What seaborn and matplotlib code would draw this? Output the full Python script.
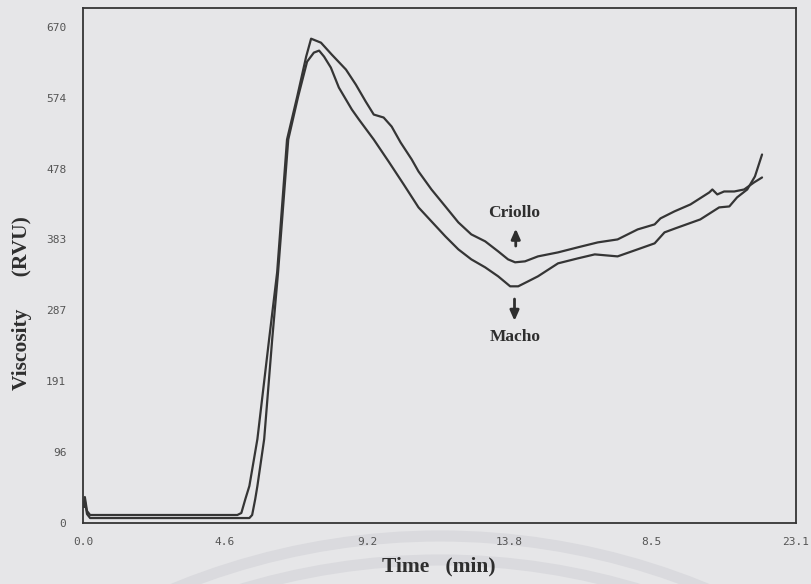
import numpy as np
import pandas as pd
import matplotlib
matplotlib.use("Agg")
import matplotlib.pyplot as plt
from matplotlib.patches import Arc
from matplotlib.transforms import IdentityTransform
import seaborn as sns

# ---- data ----
criollo_time = [0.03, 0.06, 0.13, 0.23, 2.16, 5.00, 5.13, 5.26, 5.39, 5.65, 6.03, 6.29, 6.61, 6.94,
                7.23, 7.39, 7.71, 8.06, 8.52, 8.84, 9.16, 9.42, 9.74, 10.00, 10.29, 10.65, 10.87,
                11.29, 11.74, 12.16, 12.58, 13.03, 13.45, 13.77, 14.00, 14.32, 14.74, 15.39, 16.03,
                16.68, 17.32, 17.97, 18.52, 18.71, 19.16, 19.68, 20.29, 20.39, 20.55, 20.77, 21.10,
                21.42, 21.74, 22.00]
criollo_visc = [25.6, 35.0, 16.2, 10.8, 10.8, 10.8, 13.5, 32.3, 49.9, 113.2, 248.0, 338.3, 517.5, 575.5,
                629.4, 653.6, 648.2, 632.1, 611.9, 591.6, 568.7, 551.2, 547.2, 535.0, 513.5, 490.6, 474.4,
                450.1, 427.2, 405.7, 389.5, 380.1, 366.6, 355.8, 351.8, 353.1, 359.8, 365.2, 372.0,
                378.7, 382.7, 396.2, 403.0, 411.1, 420.5, 429.9, 446.1, 450.1, 443.4, 447.4, 447.4,
                450.1, 459.6, 466.3]

macho_time = [0.03, 0.06, 0.13, 0.23, 2.16, 5.39, 5.48, 5.58, 5.65, 5.87, 6.13, 6.32, 6.65, 6.97,
              7.26, 7.48, 7.65, 7.81, 8.03, 8.29, 8.52, 8.71, 8.94, 9.42, 9.90, 10.39, 10.87, 11.29,
              11.74, 12.16, 12.58, 13.03, 13.45, 13.84, 14.10, 14.42, 14.74, 15.39, 16.03, 16.58,
              17.32, 17.97, 18.52, 18.84, 19.19, 20.00, 20.61, 20.94, 21.19, 21.52, 21.77, 22.00]
macho_visc = [21.6, 29.6, 12.1, 6.7, 6.7, 6.7, 10.8, 32.3, 49.9, 113.2, 248.0, 338.3, 517.5, 575.5,
              622.6, 634.8, 637.5, 629.4, 614.6, 587.6, 571.4, 558.0, 544.5, 517.5, 487.9, 456.9, 425.9, 407.0,
              386.8, 369.3, 355.8, 345.0, 332.9, 319.4, 319.4, 326.1, 332.9, 350.4, 357.1, 362.5,
              359.8, 369.3, 377.4, 392.2, 397.6, 409.7, 425.9, 427.2, 439.4, 450.1, 467.7, 497.3]

x_ticks = [0.0, 4.6, 9.2, 13.8, 18.4, 23.1]
x_tick_labels = ["0.0", "4.6", "9.2", "13.8", "8.5", "23.1"]
y_ticks = [0, 96, 191, 287, 383, 478, 574, 670]
y_tick_labels = ["0", "96", "191", "287", "383", "478", "574", "670"]

df = pd.concat([
    pd.DataFrame({"Time": criollo_time, "Viscosity": criollo_visc, "Sample": "Criollo"}),
    pd.DataFrame({"Time": macho_time, "Viscosity": macho_visc, "Sample": "Macho"}),
], ignore_index=True)

# ---- style ----
sns.set_theme(style="white")
bg = "#e6e6e8"
ink = "#353535"
plt.rcParams["font.family"] = ["DejaVu Sans"]

fig = plt.figure(figsize=(8.12, 5.84), dpi=100, facecolor=bg)

# faint watermark arcs below the axis (display pixel coords, origin bottom-left)
for top, r in [(48, 700), (24, 690)]:
    arc = Arc((440, top - r), 2 * r, 2 * r, theta1=55, theta2=125, color="#dadade", lw=8,
              transform=IdentityTransform(), zorder=-5)
    fig.patches.append(arc)

ax = fig.add_axes([83 / 812, 1 - 523 / 584, (796 - 83) / 812, (523 - 8) / 584])
ax.set_facecolor(bg)
ax.set_zorder(2)

sns.lineplot(data=df, x="Time", y="Viscosity", hue="Sample", units="Sample",
             estimator=None, sort=False, palette={"Criollo": ink, "Macho": ink},
             linewidth=1.6, legend=False, ax=ax)

ax.set_xlim(0, 23.0)
ax.set_ylim(0, 695)
ax.set_xticks(x_ticks)
ax.set_xticklabels(x_tick_labels, family="DejaVu Sans Mono", fontsize=8, color="#555555")
ax.set_yticks(y_ticks)
ax.set_yticklabels(y_tick_labels, family="DejaVu Sans Mono", fontsize=8, color="#555555")
ax.tick_params(axis="x", direction="in", length=8, width=1.0, color=ink, pad=10)
ax.tick_params(axis="y", direction="in", length=6, width=1.0, color=ink, pad=12)
for s in ax.spines.values():
    s.set_color(ink)
    s.set_linewidth(1.3)
ax.set_xlabel("")
ax.set_ylabel("")

serif = ["Liberation Serif", "DejaVu Serif"]
fig.text(22 / 812, 1 - 303 / 584, "Viscosity      (RVU)", rotation=90, ha="center", va="center",
         family=serif, fontweight="bold", fontsize=15.5, color="#2e2e2e", zorder=3)
fig.text(439 / 812, 1 - 566 / 584, "Time   (min)", ha="center", va="center",
         family=serif, fontweight="bold", fontsize=15.5, color="#2e2e2e", zorder=3)

# annotations
ax.text(13.98, 419, "Criollo", ha="center", va="center", family=serif, fontweight="bold",
        fontsize=12.5, color="#2e2e2e")
ax.annotate("", xy=(14.02, 401), xytext=(14.02, 370),
            arrowprops=dict(arrowstyle="-|>,head_length=0.5,head_width=0.22", color="#2e2e2e", lw=2))
ax.text(14.0, 251, "Macho", ha="center", va="center", family=serif, fontweight="bold",
        fontsize=12.5, color="#2e2e2e")
ax.annotate("", xy=(13.98, 269), xytext=(13.98, 306),
            arrowprops=dict(arrowstyle="-|>,head_length=0.5,head_width=0.22", color="#2e2e2e", lw=2))

fig.savefig("out.png", dpi=100, facecolor=bg)
